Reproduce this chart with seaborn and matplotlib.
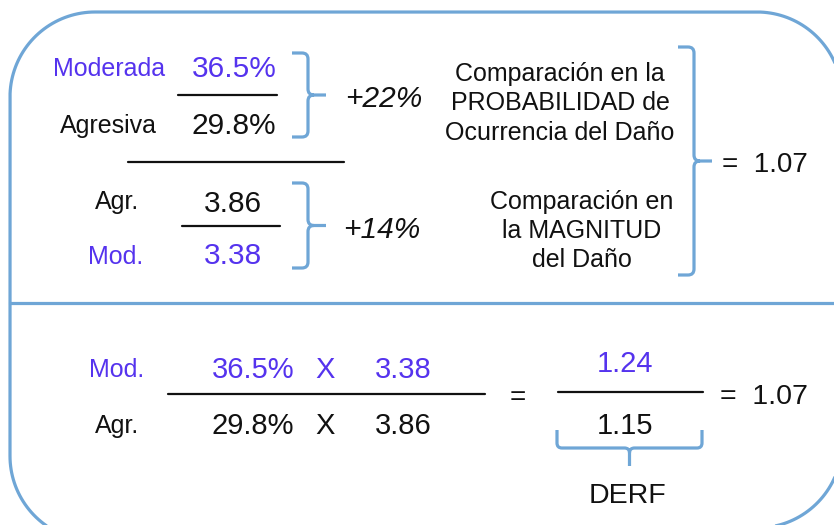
import matplotlib
matplotlib.use("Agg")
import numpy as np
import matplotlib.pyplot as plt
import seaborn as sns
from matplotlib.path import Path
from matplotlib.patches import PathPatch

sns.set_theme(style="white")
plt.rcParams['font.family'] = ['Liberation Sans', 'DejaVu Sans']

PURPLE = '#5533ee'
BLUE = '#6fa6d6'
BLACK = '#111111'

# ---------- values ----------
prob_labels = ['Moderada', 'Agresiva']
prob_values = ['36.5%', '29.8%']
mag_labels = ['Agr.', 'Mod.']
mag_values = ['3.86', '3.38']
prob_change = '+22%'
mag_change = '+14%'
comp_prob = ['Comparación en la', 'PROBABILIDAD de', 'Ocurrencia del Daño']
comp_mag = ['Comparación en', 'la MAGNITUD', 'del Daño']
result = '1.07'
num_row = ['Mod.', '36.5%', 'X', '3.38']
den_row = ['Agr.', '29.8%', 'X', '3.86']
frac_num = '1.24'
frac_den = '1.15'
derf_label = 'DERF'

fig = plt.figure(figsize=(8.34, 5.25), dpi=100)
ax = fig.add_axes([0, 0, 1, 1])
ax.set_xlim(0, 834)
ax.set_ylim(525, 0)
ax.axis('off')

# outer rounded frame (runs past the right and bottom edges)
r = 85
corners = [((757, 443), 0, 90),      # bottom right
           ((95, 456), 90, 180),     # bottom left
           ((95, 97), 180, 270),     # top left
           ((757, 97), 270, 360)]    # top right
pts = []
for (cx, cy), a0, a1 in corners:
    t = np.radians(np.linspace(a0, a1, 40))
    pts += list(zip(cx + r * np.cos(t), cy + r * np.sin(t)))
pts.append(pts[0])
ax.add_patch(PathPatch(Path(pts), fill=False, ec=BLUE, lw=2.3, clip_on=True))
ax.plot([10, 834], [303, 303], color=BLUE, lw=2.3)


def right_brace(x0, y_top, y_bot, w=16, tip=18):
    # "}" shaped bracket opening to the left
    ym = (y_top + y_bot) / 2
    xv = x0 + w
    k = 6
    verts = [(x0, y_top), (xv - k, y_top), (xv, y_top), (xv, y_top + k),
             (xv, ym - k), (xv, ym), (xv + k, ym), (xv + tip, ym),
             (xv + k, ym), (xv, ym), (xv, ym + k),
             (xv, y_bot - k), (xv, y_bot), (xv - k, y_bot), (x0, y_bot)]
    codes = [Path.MOVETO, Path.LINETO, Path.CURVE3, Path.CURVE3,
             Path.LINETO, Path.CURVE3, Path.CURVE3, Path.LINETO,
             Path.MOVETO, Path.CURVE3, Path.CURVE3,
             Path.LINETO, Path.CURVE3, Path.CURVE3, Path.LINETO]
    ax.add_patch(PathPatch(Path(verts, codes), fill=False, ec=BLUE, lw=2.3,
                           capstyle='butt', joinstyle='round'))


def under_brace(x_left, x_right, y_top, y_bot, tip=18):
    xm = (x_left + x_right) / 2
    k = 5
    verts = [(x_left, y_top), (x_left, y_bot - k), (x_left, y_bot), (x_left + k, y_bot),
             (xm - k, y_bot), (xm, y_bot), (xm, y_bot + k), (xm, y_bot + tip),
             (xm, y_bot + k), (xm, y_bot), (xm + k, y_bot),
             (x_right - k, y_bot), (x_right, y_bot), (x_right, y_bot - k), (x_right, y_top)]
    codes = [Path.MOVETO, Path.LINETO, Path.CURVE3, Path.CURVE3,
             Path.LINETO, Path.CURVE3, Path.CURVE3, Path.LINETO,
             Path.MOVETO, Path.CURVE3, Path.CURVE3,
             Path.LINETO, Path.CURVE3, Path.CURVE3, Path.LINETO]
    ax.add_patch(PathPatch(Path(verts, codes), fill=False, ec=BLUE, lw=2.3,
                           capstyle='butt', joinstyle='round'))


LBL = 18
NUM = 21.5
DY = 2  # matplotlib centres on the full box incl. descent, nudge down a bit


def txt(x, y, s, **kw):
    kw.setdefault('va', 'center')
    kw.setdefault('color', BLACK)
    ax.text(x, y + DY, s, **kw)


# ---------- top left: probability ----------
txt(165, 67, prob_labels[0], ha='right', fontsize=LBL, color=PURPLE)
txt(234, 67, prob_values[0], ha='center', fontsize=NUM, color=PURPLE)
ax.plot([178, 277], [95, 95], color=BLACK, lw=1.6)
txt(157, 124, prob_labels[1], ha='right', fontsize=LBL)
txt(234, 124, prob_values[1], ha='center', fontsize=NUM)
right_brace(292, 53, 137)
txt(345, 97, prob_change, ha='left', fontsize=21.5, style='italic')

ax.plot([128, 344], [162, 162], color=BLACK, lw=1.6)

# magnitude
txt(117, 200, mag_labels[0], ha='center', fontsize=LBL)
txt(233, 202, mag_values[0], ha='center', fontsize=NUM)
ax.plot([182, 280], [226, 226], color=BLACK, lw=1.6)
txt(116, 255, mag_labels[1], ha='center', fontsize=LBL, color=PURPLE)
txt(233, 254, mag_values[1], ha='center', fontsize=NUM, color=PURPLE)
right_brace(292, 183, 268)
txt(343, 228, mag_change, ha='left', fontsize=21.5, style='italic')

# ---------- top right: explanations ----------
for i, line in enumerate(comp_prob):
    txt(560, 72 + i * 29.5, line, ha='center', fontsize=LBL)
for i, line in enumerate(comp_mag):
    txt(582, 200 + i * 29, line, ha='center', fontsize=LBL)
right_brace(678, 47, 275)
txt(722, 163, '=  ' + result, ha='left', fontsize=20)

# ---------- bottom: combined ----------
row_x = [117, 253, 325, 403]
row_sizes = [18, 21, 21, 21]
for x, s, fs in zip(row_x, num_row, row_sizes):
    txt(x, 368, s, ha='center', fontsize=fs, color=PURPLE)
for x, s, fs in zip(row_x, den_row, row_sizes):
    txt(x, 424, s, ha='center', fontsize=fs)
ax.plot([168, 485], [394, 394], color=BLACK, lw=1.6)
txt(518, 396, '=', ha='center', fontsize=20)
txt(625, 362, frac_num, ha='center', fontsize=21, color=PURPLE)
ax.plot([558, 703], [392, 392], color=BLACK, lw=1.6)
txt(625, 424, frac_den, ha='center', fontsize=21)
txt(720, 395, '=  ' + result, ha='left', fontsize=20.5)
under_brace(557, 702, 430, 448, tip=18)
txt(628, 494, derf_label, ha='center', fontsize=20.5)

fig.savefig('out.png', dpi=100)
